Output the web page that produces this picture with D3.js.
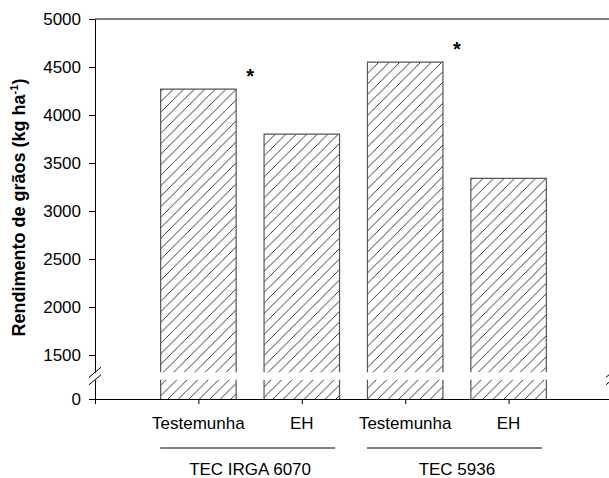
<!DOCTYPE html>
<html>
<head>
<meta charset="utf-8">
<script src="https://cdn.jsdelivr.net/npm/d3@7"></script>
<style>
  body { margin: 0; background: #fff; }
  svg { display: block; font-family: Arial, "Liberation Sans", sans-serif; }
</style>
</head>
<body>
<div class="chart"></div>
<script>
// data
const categories = ["Testemunha", "EH", "Testemunha", "EH"];
const groups = ["TEC IRGA 6070", "TEC 5936"];
const rendimento = [4270, 3800, 4550, 3340];
const asteriskPos = [1.5, 3.5];      // between the two bars of each group
const asteriskVal = [4330, 4610];
const yTicks = [1500, 2000, 2500, 3000, 3500, 4000, 4500, 5000];
const lowTicks = [0];
const breakLow = 200, breakHigh = 1320; // axis break

const width = 609, height = 478;
const plotLeft = 95, plotRight = 612, plotTop = 19, plotBottom = 399;
const gapTop = 372.3, gapBottom = 379.8;
const barW = 75.5;

const svg = d3.select(".chart")
  .append("svg")
  .attr("width", width)
  .attr("height", height);

// hatch pattern
svg.append("defs")
  .append("pattern")
  .attr("id", "hatch")
  .attr("patternUnits", "userSpaceOnUse")
  .attr("width", 10.5)
  .attr("height", 10.5)
  .append("path")
  .attr("d", "M0,10.5 L10.5,0 M-2,2 L2,-2 M8.5,12.5 L12.5,8.5")
  .attr("stroke", "#222")
  .attr("stroke-width", 0.9);

const x = d3.scaleLinear().domain([0, 5]).range([plotLeft, plotRight]);
const yUp = d3.scaleLinear().domain([breakHigh, 5000]).range([gapTop, plotTop]);
const yLo = d3.scaleLinear().domain([0, breakLow]).range([plotBottom, gapBottom]);

// bars, upper and lower part
const bars = svg.append("g").selectAll("g")
  .data(rendimento)
  .join("g");

bars.append("rect")
  .attr("x", (d, i) => x(i + 1) - barW / 2)
  .attr("y", d => yUp(d))
  .attr("width", barW)
  .attr("height", d => gapTop - yUp(d))
  .attr("fill", "url(#hatch)");

bars.append("rect")
  .attr("x", (d, i) => x(i + 1) - barW / 2)
  .attr("y", gapBottom)
  .attr("width", barW)
  .attr("height", plotBottom - gapBottom)
  .attr("fill", "url(#hatch)");

bars.append("path")
  .attr("fill", "none")
  .attr("stroke", "#555")
  .attr("stroke-width", 1.2)
  .attr("d", (d, i) => {
    const x0 = x(i + 1) - barW / 2, x1 = x(i + 1) + barW / 2;
    return `M${x0},${gapTop}V${yUp(d)}H${x1}V${gapTop}` +
      `M${x0},${plotBottom}V${gapBottom}M${x1},${gapBottom}V${plotBottom}`;
  });

// axes
svg.append("g")
  .attr("transform", `translate(${plotLeft},0)`)
  .call(d3.axisLeft(yUp).tickValues(yTicks).tickFormat(d3.format("d"))
    .tickSize(6).tickSizeOuter(0).tickPadding(8));

svg.append("g")
  .attr("transform", `translate(${plotLeft},0)`)
  .call(d3.axisLeft(yLo).tickValues(lowTicks).tickFormat(d3.format("d"))
    .tickSize(6).tickSizeOuter(0).tickPadding(8));

svg.append("g")
  .attr("transform", `translate(0,${plotBottom})`)
  .call(d3.axisBottom(x).tickValues([0, 1, 2, 3, 4, 5]).tickFormat("").tickSize(5).tickSizeOuter(0));

svg.selectAll(".tick text")
  .attr("font-size", "17px")
  .attr("font-family", "Arial, 'Liberation Sans', sans-serif")
  .attr("fill", "#000");

svg.selectAll(".domain, .tick line").attr("stroke", "#000");

// frame: top and right side
svg.append("line")
  .attr("x1", plotLeft).attr("x2", plotRight)
  .attr("y1", plotTop).attr("y2", plotTop)
  .attr("stroke", "#000");

svg.append("path")
  .attr("fill", "none")
  .attr("stroke", "#000")
  .attr("d", `M${plotRight},${plotTop}V${gapTop}M${plotRight},${gapBottom}V${plotBottom}`);

// break marks
[plotLeft, plotRight].forEach(ax => {
  [gapTop, gapBottom].forEach(gy => {
    svg.append("line")
      .attr("x1", ax - 6).attr("y1", gy + 5)
      .attr("x2", ax + 6).attr("y2", gy - 5)
      .attr("stroke", "#000");
  });
});

// category labels
svg.append("g").selectAll("text")
  .data(categories)
  .join("text")
  .attr("x", (d, i) => x(i + 1))
  .attr("y", 429)
  .attr("text-anchor", "middle")
  .attr("font-size", "17px")
  .text(d => d);

// group labels with lines
groups.forEach((g, i) => {
  const cx = x(i * 2 + 1.5);
  svg.append("line")
    .attr("x1", cx - 90).attr("x2", cx + 85)
    .attr("y1", 448).attr("y2", 448)
    .attr("stroke", "#000");
  svg.append("text")
    .attr("x", cx)
    .attr("y", 475)
    .attr("text-anchor", "middle")
    .attr("font-size", "17px")
    .text(g);
});

// significance asterisks
svg.append("g").selectAll("text")
  .data(asteriskPos)
  .join("text")
  .attr("x", d => x(d))
  .attr("y", (d, i) => yUp(asteriskVal[i]))
  .attr("text-anchor", "middle")
  .attr("font-size", "20px")
  .attr("font-weight", "bold")
  .text("*");

// y title
const yTitle = svg.append("text")
  .attr("transform", "translate(25,207.5) rotate(-90)")
  .attr("text-anchor", "middle")
  .attr("font-size", "18px")
  .attr("font-weight", "bold");
yTitle.append("tspan").text("Rendimento de grãos (kg ha");
yTitle.append("tspan").attr("font-size", "11px").attr("dy", -7).text("-1");
yTitle.append("tspan").attr("dy", 7).text(")");
</script>
</body>
</html>
